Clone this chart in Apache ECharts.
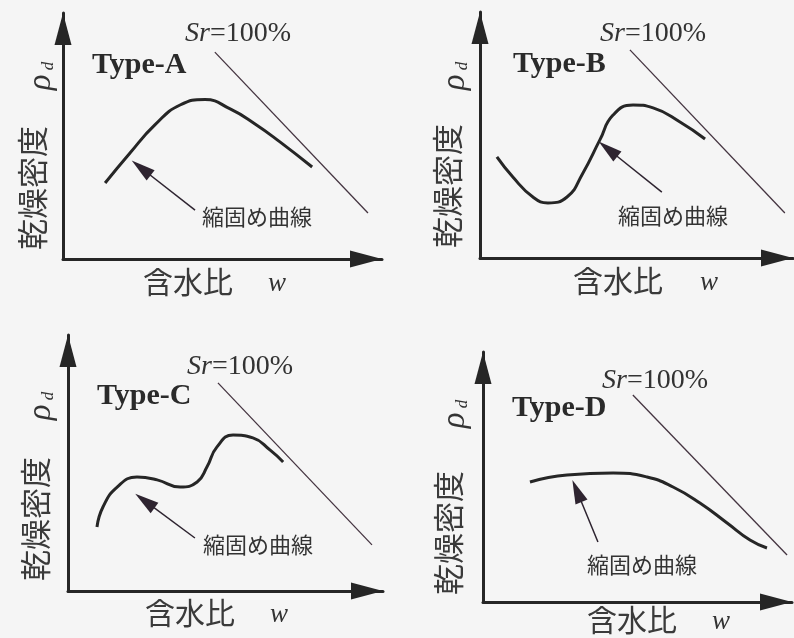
<!DOCTYPE html>
<html>
<head>
<meta charset="utf-8">
<script src="https://cdn.jsdelivr.net/npm/echarts@6/dist/echarts.min.js"></script>
<style>
html,body{margin:0;padding:0;background:#f5f5f5;}
#chart{width:794px;height:638px;}
</style>
</head>
<body>
<div id="chart"></div>
<script>
// ---- data (normalized 0-100 units: w along x, rho_d along y) ----
const panelNames = ['Type-A', 'Type-B', 'Type-C', 'Type-D'];
const xAxisTitle = '含水比';
const xAxisSymbol = 'w';
const yAxisTitle = '乾燥密度';
const curveLabel = '縮固め曲線';
const saturationLabel = 'Sr=100%';

const curveA = [[13.2,30.9],[21.0,43.1],[28.8,54.5],[36.7,62.6],[44.5,64.8],[52.4,61.0],[60.2,54.9],[68.0,47.6],[78.1,37.4]];
const curveB = [[5.4,41.1],[10.5,32.9],[16.9,24.8],[21.7,22.4],[27.8,24.8],[32.9,34.6],[38.3,48.0],[42.5,58.1],[48.9,62.2],[55.3,61.0],[63.9,55.3],[71.9,48.4]];
const curveC = [[9.2,25.0],[11.1,32.8],[15.6,40.6],[21.9,44.5],[28.3,43.4],[35.6,40.6],[41.0,42.6],[44.1,48.4],[47.3,56.3],[52.4,60.9],[58.7,59.8],[64.1,55.1],[68.3,50.4]];
const curveD = [[15.2,48.0],[27.2,50.8],[42.1,51.6],[53.1,50.0],[61.5,46.0],[70.2,39.6],[79.0,31.6],[86.4,24.8],[91.9,21.6]];

const srA = [[47.6,84.1],[95.6,18.7]];
const srB = [[47.9,84.6],[97.4,18.3]];
const srC = [[47.6,81.3],[96.5,18.0]];
const srD = [[48.5,82.8],[98.4,18.8]];

const pointerA = [[41.4,19.9],[24.5,37.0]];
const pointerB = [[58.1,26.8],[40.9,44.3]];
const pointerC = [[40.3,20.7],[24.4,35.2]];
const pointerD = [[37.2,24.0],[30.4,44.4]];

// ---- layout ----
const grids = [
  {left: 63,  top: 13,  width: 319, height: 246},
  {left: 480, top: 12,  width: 313, height: 246},
  {left: 68,  top: 335, width: 315, height: 256},
  {left: 483, top: 352, width: 309, height: 250}
];
const curves = [curveA, curveB, curveC, curveD];
const srLines = [srA, srB, srC, srD];
const pointers = [pointerA, pointerB, pointerC, pointerD];

// text positions per panel (pixels)
const textPos = [
  {type:[92,65],  sr:[185,34],  lab:[202,217], yt:[32,188],  rho:[41,76],  xt:[143,282], w:[268,284]},
  {type:[513,64], sr:[600,34],  lab:[618,216], yt:[447,186], rho:[455,76], xt:[573,281], w:[700,283]},
  {type:[97,396], sr:[187,367], lab:[203,545], yt:[35,519],  rho:[41,406], xt:[145,613], w:[270,615]},
  {type:[512,408],sr:[602,381], lab:[587,565], yt:[448,533], rho:[455,414],xt:[587,620], w:[712,622]}
];

const dark = '#262626';
const thin = '#443440';
const cjk = '"Noto Sans CJK JP", "Noto Sans CJK SC", sans-serif';
const serif = '"Liberation Serif", "Times New Roman", serif';

const xAxes = [], yAxes = [], series = [], graphics = [];
grids.forEach((g, i) => {
  xAxes.push({
    type: 'value', gridIndex: i, min: 0, max: 100,
    axisLine: {show: true, onZero: false, symbol: ['none', 'triangle'], symbolSize: [17, 32], symbolOffset: [0, -16],
      lineStyle: {color: dark, width: 3}},
    axisTick: {show: false}, axisLabel: {show: false}, splitLine: {show: false}
  });
  yAxes.push({
    type: 'value', gridIndex: i, min: 0, max: 100,
    axisLine: {show: true, onZero: false, symbol: ['none', 'triangle'], symbolSize: [17, 32], symbolOffset: [0, -16],
      lineStyle: {color: dark, width: 3}},
    axisTick: {show: false}, axisLabel: {show: false}, splitLine: {show: false}
  });
  series.push({
    type: 'line', xAxisIndex: i, yAxisIndex: i, data: curves[i], smooth: 0.5,
    showSymbol: false, silent: true, lineStyle: {color: dark, width: 3}
  });
  series.push({
    type: 'line', xAxisIndex: i, yAxisIndex: i, data: srLines[i],
    showSymbol: false, silent: true, lineStyle: {color: thin, width: 1.3}
  });
  series.push({
    type: 'lines', coordinateSystem: 'cartesian2d', xAxisIndex: i, yAxisIndex: i,
    data: [{coords: pointers[i]}],
    symbol: ['none', 'triangle'], symbolSize: [1, [13, 24]],
    silent: true, lineStyle: {color: '#2e2430', width: 1.5, opacity: 1}
  });

  const p = textPos[i];
  graphics.push({type: 'text', x: p.type[0], y: p.type[1], silent: true,
    style: {text: panelNames[i], font: 'bold 30px ' + serif, fill: '#2a2a2a', align: 'left', verticalAlign: 'middle'}});
  graphics.push({type: 'text', x: p.sr[0], y: p.sr[1], silent: true,
    style: {text: '{i|Sr}=100%', font: '28px ' + serif, fill: '#333', align: 'left', verticalAlign: 'middle',
      rich: {i: {fontStyle: 'italic', fontFamily: serif, fontSize: 28, fill: '#333'}}}});
  graphics.push({type: 'text', x: p.lab[0], y: p.lab[1], silent: true,
    style: {text: curveLabel, font: '22px ' + cjk, fill: '#333', align: 'left', verticalAlign: 'middle'}});
  graphics.push({type: 'text', x: p.yt[0], y: p.yt[1], rotation: Math.PI / 2, silent: true,
    style: {text: yAxisTitle, font: '31px ' + cjk, fill: '#3a3a3a', align: 'center', verticalAlign: 'middle'}});
  graphics.push({type: 'text', x: p.rho[0], y: p.rho[1], rotation: Math.PI / 2, silent: true,
    style: {text: '{r|ρ}{s|d}', align: 'center', verticalAlign: 'middle',
      rich: {r: {fontStyle: 'italic', fontFamily: serif, fontSize: 33, fill: '#333'},
             s: {fontStyle: 'italic', fontFamily: serif, fontSize: 17, fill: '#333', verticalAlign: 'bottom', padding: [10, 0, 0, 4]}}}});
  graphics.push({type: 'text', x: p.xt[0], y: p.xt[1], silent: true,
    style: {text: xAxisTitle, font: '30px ' + cjk, fill: '#3a3a3a', align: 'left', verticalAlign: 'middle'}});
  graphics.push({type: 'text', x: p.w[0], y: p.w[1], silent: true,
    style: {text: xAxisSymbol, font: 'italic 27px ' + serif, fill: '#333', align: 'left', verticalAlign: 'middle'}});
});

const chart = echarts.init(document.getElementById('chart'), null, {renderer: 'canvas'});
chart.setOption({
  backgroundColor: '#f5f5f5',
  animation: false,
  grid: grids.map(g => Object.assign({containLabel: false}, g)),
  xAxis: xAxes,
  yAxis: yAxes,
  series: series,
  graphic: graphics
});
</script>
</body>
</html>
